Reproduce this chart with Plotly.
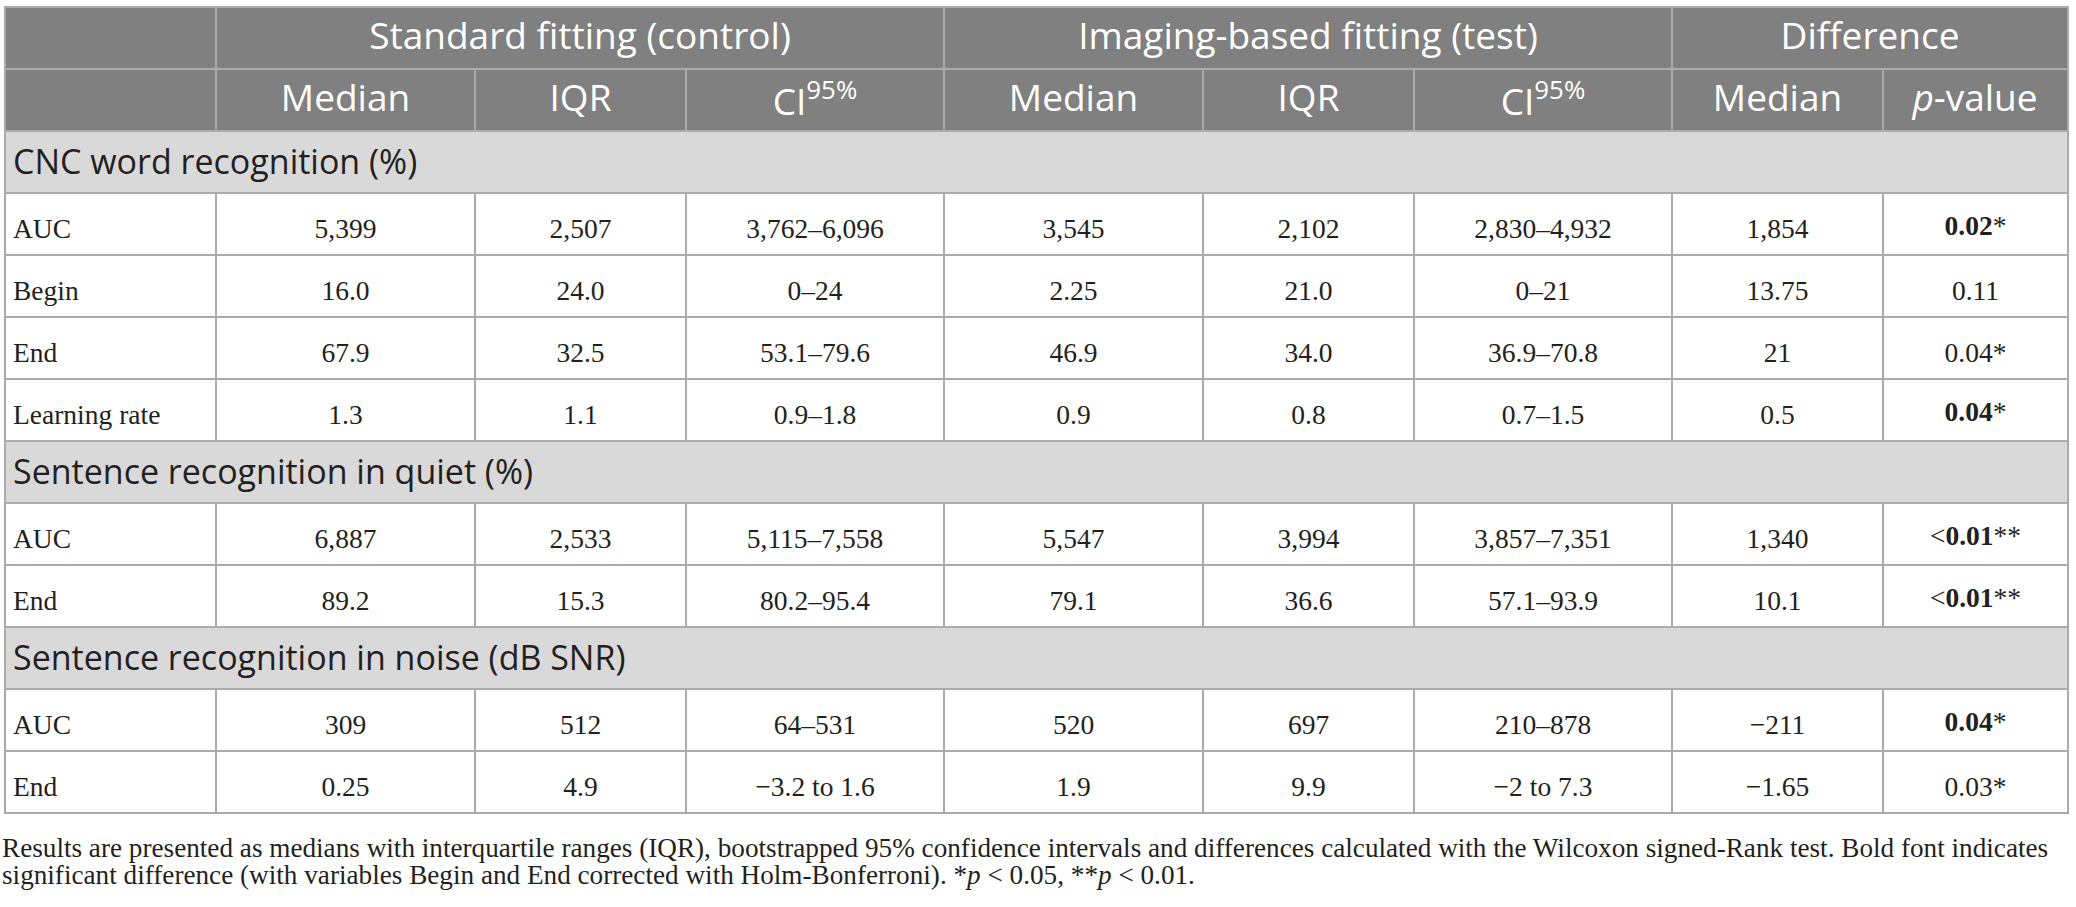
import plotly.graph_objects as go

# ---- data ----
group_labels = ["", "Standard fitting (control)", "Imaging-based fitting (test)", "Difference"]
column_labels = ["", "Median", "IQR", "CI<sup>95%</sup>", "Median", "IQR", "CI<sup>95%</sup>",
                 "Median", "<i>p</i>-value"]

sections = ["CNC word recognition (%)", "Sentence recognition in quiet (%)",
            "Sentence recognition in noise (dB SNR)"]
section_sizes = [4, 2, 2]

measures = ["AUC", "Begin", "End", "Learning rate", "AUC", "End", "AUC", "End"]
std_median = ["5,399", "16.0", "67.9", "1.3", "6,887", "89.2", "309", "0.25"]
std_iqr = ["2,507", "24.0", "32.5", "1.1", "2,533", "15.3", "512", "4.9"]
std_ci = ["3,762–6,096", "0–24", "53.1–79.6", "0.9–1.8", "5,115–7,558", "80.2–95.4",
          "64–531", "−3.2 to 1.6"]
img_median = ["3,545", "2.25", "46.9", "0.9", "5,547", "79.1", "520", "1.9"]
img_iqr = ["2,102", "21.0", "34.0", "0.8", "3,994", "36.6", "697", "9.9"]
img_ci = ["2,830–4,932", "0–21", "36.9–70.8", "0.7–1.5", "3,857–7,351", "57.1–93.9",
          "210–878", "−2 to 7.3"]
diff_median = ["1,854", "13.75", "21", "0.5", "1,340", "10.1", "−211", "−1.65"]
p_value = ["<b>0.02</b>*", "0.11", "0.04*", "<b>0.04</b>*", "&lt;<b>0.01</b>**",
           "&lt;<b>0.01</b>**", "<b>0.04</b>*", "0.03*"]

footnote_lines = [
    "Results are presented as medians with interquartile ranges (IQR), bootstrapped 95% confidence "
    "intervals and differences calculated with the Wilcoxon signed-Rank test. Bold font indicates",
    "significant difference (with variables Begin and End corrected with Holm-Bonferroni). "
    "*<i>p</i> &lt; 0.05, **<i>p</i> &lt; 0.01.",
]

# ---- styling / geometry ----
W, H = 2076, 907
X0, X1 = 5, 2068
TOP = 7
ROW_H = 62
HEAD_BG = "#808080"
SECT_BG = "#d9d9d9"
LINE = "#ababab"
INK = "#231f20"
SANS = "Open Sans"
SERIF = "Liberation Serif"
col_w = [211, 259, 211, 258, 259, 211, 258, 211, 185]
group_w = [211, 728, 728, 396]

fig = go.Figure()


def one_row(values, widths, top, fill, line_w, font, align):
    fig.add_trace(go.Table(
        domain=dict(x=[X0 / W, X1 / W], y=[max(0, 1 - (top + ROW_H + 4) / H), min(1, 1 - top / H)]),
        columnwidth=widths,
        header=dict(values=values, fill=dict(color=fill), line=dict(color=LINE, width=line_w),
                    font=font, align=align, height=ROW_H),
    ))


def add_row(values, widths, row_index, fill, font, align, dy, dy_markup):
    top = TOP + row_index * ROW_H
    # box and rules
    one_row(["" for _ in values], widths, top, fill, 2, font, align)
    # text, nudged down to the middle of the row; cells with markup sit lower, so less nudge
    plain = [v if "<" not in v and "&" not in v else "" for v in values]
    marked = [v if ("<" in v or "&" in v) else "" for v in values]
    one_row(plain, widths, top + dy, "rgba(0,0,0,0)", 0, font, align)
    if any(marked):
        one_row(marked, widths, top + dy_markup, "rgba(0,0,0,0)", 0, font, align)


head_font = dict(family=SANS, size=37, color="white")
add_row(group_labels, group_w, 0, HEAD_BG, head_font, "center", 6, 6)
add_row(column_labels, col_w, 1, HEAD_BG, head_font, "center", 6, -6)

body_cols = [measures, std_median, std_iqr, std_ci, img_median, img_iqr, img_ci,
             diff_median, p_value]
body_font = dict(family=SERIF, size=27.5, color=INK)
body_align = ["left"] + ["center"] * 8
row = 2
start = 0
for name, size in zip(sections, section_sizes):
    add_row([name], [1], row, SECT_BG, dict(family=SANS, size=34, color=INK), "left", 9, 9)
    row += 1
    for k in range(start, start + size):
        add_row([c[k] for c in body_cols], col_w, row, "white", body_font, body_align, 16, 9)
        row += 1
    start += size

for i, line in enumerate(footnote_lines):
    fig.add_annotation(text=line, xref="paper", yref="paper", x=0, y=1 - (848 + i * 27) / H,
                       xanchor="left", yanchor="middle", showarrow=False,
                       font=dict(family=SERIF, size=27.2, color=INK))

fig.update_layout(width=W, height=H, margin=dict(l=0, r=0, t=0, b=0),
                  paper_bgcolor="white", plot_bgcolor="white")

# page has a default 8px body margin; drop it so the figure fills the window exactly
fig.write_html("out.html", config={"displayModeBar": False},
               post_script="document.body.style.margin='0';")
